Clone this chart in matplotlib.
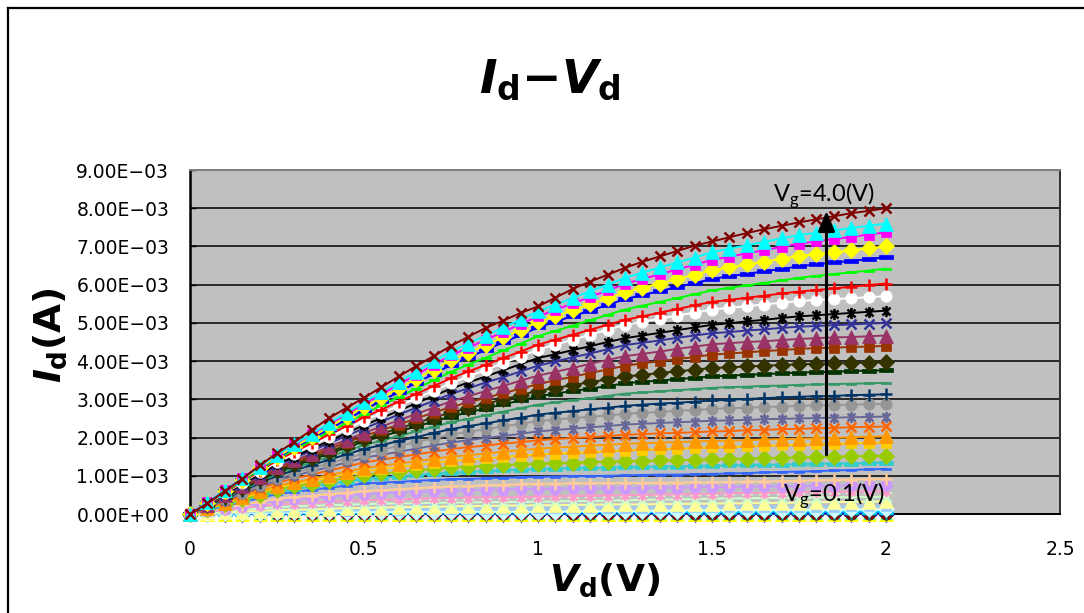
import matplotlib
matplotlib.use("Agg")
import matplotlib.pyplot as plt
from matplotlib.path import Path
from matplotlib.lines import Line2D
import numpy as np

# drain voltage sweep (V)
vd = [0.00, 0.05, 0.10, 0.15, 0.20, 0.25, 0.30, 0.35, 0.40, 0.45, 0.50,
      0.55, 0.60, 0.65, 0.70, 0.75, 0.80, 0.85, 0.90, 0.95, 1.00,
      1.05, 1.10, 1.15, 1.20, 1.25, 1.30, 1.35, 1.40, 1.45, 1.50,
      1.55, 1.60, 1.65, 1.70, 1.75, 1.80, 1.85, 1.90, 1.95, 2.00]

# drain current (mA) for each gate voltage
id_vg01_07 = [0, 0, 0, 0, 0, 0, 0, 0, 0, 0, 0, 0, 0, 0, 0, 0, 0, 0, 0, 0, 0,
              0, 0, 0, 0, 0, .01, .01, .01, .01, .01, .01, .01, .01, .01, .01, .01, .01, .01, .01, .01]
id_vg08 = [0, .00, .01, .01, .01, .01, .01, .01, .02, .02, .02, .02, .02, .02, .02, .02, .02, .02, .02, .02, .02,
           .02, .02, .02, .03, .03, .03, .03, .03, .03, .03, .03, .03, .03, .03, .03, .03, .03, .03, .03, .03]
id_vg09 = [0, .00, .01, .01, .02, .02, .02, .02, .03, .03, .03, .03, .03, .04, .04, .04, .04, .04, .04, .04, .04,
           .04, .05, .05, .05, .05, .05, .05, .05, .05, .05, .05, .05, .06, .06, .06, .06, .06, .06, .06, .06]
id_vg10 = [0, .01, .02, .02, .03, .04, .04, .04, .05, .05, .05, .05, .05, .06, .06, .06, .06, .06, .06, .06, .06,
           .06, .07, .07, .08, .08, .08, .09, .09, .10, .10, .10, .10, .11, .11, .11, .11, .11, .12, .12, .12]
id_vg11 = [0, .01, .02, .04, .05, .06, .07, .08, .08, .09, .10, .11, .11, .12, .12, .13, .13, .14, .14, .15, .15,
           .15, .16, .16, .17, .17, .17, .17, .18, .18, .18, .18, .18, .19, .19, .19, .19, .19, .20, .20, .20]
id_vg12 = [0, .02, .04, .06, .08, .10, .11, .12, .14, .15, .16, .17, .18, .18, .19, .20, .21, .21, .22, .22, .23,
           .23, .24, .24, .25, .25, .25, .26, .26, .27, .27, .28, .28, .29, .29, .30, .31, .31, .32, .32, .33]
id_vg13 = [0, .04, .07, .11, .14, .18, .20, .21, .23, .24, .26, .27, .28, .28, .29, .30, .30, .31, .31, .32, .32,
           .33, .34, .34, .35, .36, .37, .38, .38, .39, .40, .41, .41, .42, .42, .43, .43, .44, .44, .45, .45]
id_vg14 = [0, .05, .10, .15, .20, .25, .27, .29, .32, .34, .36, .37, .38, .40, .41, .42, .43, .43, .44, .44, .45,
           .46, .47, .47, .48, .49, .50, .51, .51, .52, .53, .54, .55, .55, .56, .57, .58, .58, .59, .59, .60]
id_vg15 = [0, .07, .14, .21, .28, .35, .38, .42, .45, .49, .52, .54, .56, .57, .59, .61, .62, .63, .64, .65, .66,
           .66, .67, .67, .68, .68, .68, .69, .69, .70, .70, .71, .71, .72, .72, .73, .74, .74, .75, .75, .76]
id_vg16 = [0, .08, .16, .24, .32, .40, .44, .48, .52, .56, .60, .62, .65, .67, .70, .72, .73, .75, .76, .78, .79,
           .79, .80, .80, .81, .81, .81, .82, .82, .83, .83, .84, .85, .85, .86, .87, .88, .89, .90, .91, .92]
id_vg17 = [0, .10, .21, .31, .42, .52, .58, .63, .69, .74, .80, .82, .84, .87, .89, .91, .92, .93, .95, .96, .97,
           .98, .99, .99, 1.00, 1.01, 1.02, 1.03, 1.03, 1.04, 1.05, 1.06, 1.07, 1.09, 1.10, 1.11, 1.12, 1.14, 1.15, 1.17, 1.18]
id_vg18 = [0, .12, .23, .35, .46, .58, .65, .72, .79, .85, .92, .95, .98, 1.02, 1.05, 1.08, 1.10, 1.12, 1.14, 1.16, 1.18,
           1.19, 1.20, 1.20, 1.21, 1.22, 1.23, 1.24, 1.24, 1.25, 1.26, 1.27, 1.28, 1.28, 1.29, 1.30, 1.31, 1.32, 1.32, 1.33, 1.34]
id_vg19 = [0, .13, .26, .38, .51, .64, .72, .79, .87, .94, 1.02, 1.06, 1.10, 1.14, 1.18, 1.22, 1.24, 1.26, 1.28, 1.30, 1.32,
           1.33, 1.34, 1.36, 1.37, 1.38, 1.39, 1.40, 1.41, 1.42, 1.43, 1.44, 1.45, 1.46, 1.47, 1.48, 1.49, 1.50, 1.51, 1.52, 1.53]
id_vg20 = [0, .14, .28, .42, .56, .70, .78, .87, .95, 1.04, 1.12, 1.17, 1.23, 1.28, 1.34, 1.39, 1.42, 1.46, 1.49, 1.53, 1.56,
           1.58, 1.60, 1.62, 1.64, 1.66, 1.68, 1.69, 1.71, 1.72, 1.74, 1.75, 1.77, 1.78, 1.80, 1.81, 1.82, 1.83, 1.85, 1.86, 1.87]
id_vg21 = [0, .15, .30, .44, .59, .74, .83, .92, 1.02, 1.11, 1.20, 1.26, 1.32, 1.38, 1.44, 1.50, 1.54, 1.58, 1.63, 1.67, 1.71,
           1.74, 1.76, 1.79, 1.81, 1.84, 1.85, 1.87, 1.88, 1.90, 1.91, 1.92, 1.93, 1.95, 1.96, 1.97, 1.98, 1.99, 2.01, 2.02, 2.03]
id_vg22 = [0, .16, .33, .49, .66, .82, .93, 1.03, 1.14, 1.24, 1.35, 1.42, 1.49, 1.56, 1.63, 1.70, 1.75, 1.79, 1.84, 1.88, 1.93,
           1.96, 1.99, 2.01, 2.04, 2.07, 2.09, 2.11, 2.12, 2.14, 2.16, 2.17, 2.19, 2.20, 2.22, 2.23, 2.24, 2.25, 2.27, 2.28, 2.29]
id_vg23 = [0, .18, .35, .53, .70, .88, 1.00, 1.12, 1.23, 1.35, 1.47, 1.55, 1.63, 1.71, 1.79, 1.87, 1.93, 1.99, 2.04, 2.10, 2.16,
           2.20, 2.23, 2.27, 2.30, 2.34, 2.36, 2.38, 2.40, 2.42, 2.44, 2.45, 2.46, 2.48, 2.49, 2.50, 2.51, 2.52, 2.53, 2.54, 2.55]
id_vg24 = [0, .19, .38, .56, .75, .94, 1.07, 1.20, 1.32, 1.45, 1.58, 1.68, 1.78, 1.88, 1.98, 2.08, 2.15, 2.22, 2.29, 2.36, 2.43,
           2.47, 2.51, 2.54, 2.58, 2.62, 2.65, 2.67, 2.70, 2.72, 2.75, 2.77, 2.78, 2.80, 2.81, 2.83, 2.84, 2.85, 2.86, 2.87, 2.88]
id_vg25 = [0, .20, .40, .60, .80, 1.00, 1.14, 1.28, 1.42, 1.56, 1.70, 1.80, 1.91, 2.01, 2.12, 2.22, 2.30, 2.37, 2.45, 2.52, 2.60,
           2.65, 2.69, 2.74, 2.78, 2.83, 2.86, 2.89, 2.91, 2.94, 2.97, 2.99, 3.01, 3.03, 3.05, 3.07, 3.08, 3.09, 3.11, 3.12, 3.13]
id_vg26 = [0, .21, .42, .63, .84, 1.05, 1.20, 1.35, 1.50, 1.65, 1.80, 1.92, 2.04, 2.16, 2.28, 2.40, 2.49, 2.58, 2.68, 2.77, 2.86,
           2.92, 2.98, 3.03, 3.09, 3.15, 3.18, 3.21, 3.24, 3.27, 3.30, 3.32, 3.33, 3.35, 3.36, 3.38, 3.39, 3.40, 3.41, 3.42, 3.43]
id_vg27 = [0, .22, .44, .66, .88, 1.10, 1.26, 1.42, 1.58, 1.74, 1.90, 2.03, 2.16, 2.29, 2.42, 2.55, 2.66, 2.76, 2.87, 2.97, 3.08,
           3.15, 3.22, 3.28, 3.35, 3.42, 3.46, 3.49, 3.53, 3.56, 3.60, 3.62, 3.64, 3.66, 3.68, 3.70, 3.71, 3.72, 3.74, 3.75, 3.76]
id_vg28 = [0, .23, .46, .68, .91, 1.14, 1.30, 1.47, 1.63, 1.80, 1.96, 2.10, 2.24, 2.38, 2.52, 2.66, 2.77, 2.88, 3.00, 3.11, 3.22,
           3.30, 3.37, 3.45, 3.52, 3.60, 3.64, 3.69, 3.73, 3.78, 3.82, 3.84, 3.86, 3.88, 3.90, 3.92, 3.93, 3.94, 3.95, 3.96, 3.97]
id_vg29 = [0, .24, .47, .71, .94, 1.18, 1.35, 1.52, 1.70, 1.87, 2.04, 2.19, 2.34, 2.50, 2.65, 2.80, 2.92, 3.04, 3.16, 3.28, 3.40,
           3.50, 3.59, 3.69, 3.78, 3.88, 3.94, 4.00, 4.05, 4.11, 4.17, 4.20, 4.23, 4.26, 4.29, 4.32, 4.34, 4.35, 4.37, 4.38, 4.40]
id_vg30 = [0, .24, .49, .73, .98, 1.22, 1.40, 1.58, 1.76, 1.94, 2.12, 2.29, 2.45, 2.62, 2.78, 2.95, 3.08, 3.22, 3.35, 3.49, 3.62,
           3.72, 3.82, 3.93, 4.03, 4.13, 4.19, 4.25, 4.32, 4.38, 4.44, 4.47, 4.50, 4.52, 4.55, 4.58, 4.60, 4.62, 4.63, 4.65, 4.67]
id_vg31 = [0, .25, .51, .76, 1.02, 1.27, 1.46, 1.66, 1.85, 2.05, 2.24, 2.42, 2.60, 2.78, 2.96, 3.14, 3.29, 3.44, 3.58, 3.73, 3.88,
           3.99, 4.10, 4.20, 4.31, 4.42, 4.48, 4.54, 4.61, 4.67, 4.73, 4.76, 4.80, 4.83, 4.87, 4.90, 4.92, 4.94, 4.96, 4.98, 5.00]
id_vg32 = [0, .26, .52, .78, 1.04, 1.30, 1.50, 1.71, 1.91, 2.12, 2.32, 2.51, 2.70, 2.90, 3.09, 3.28, 3.44, 3.60, 3.76, 3.92, 4.08,
           4.18, 4.29, 4.39, 4.50, 4.60, 4.67, 4.74, 4.81, 4.88, 4.95, 4.99, 5.04, 5.08, 5.13, 5.17, 5.20, 5.23, 5.26, 5.29, 5.32]
id_vg33 = [0, .27, .54, .82, 1.09, 1.36, 1.58, 1.79, 2.01, 2.22, 2.44, 2.64, 2.83, 3.03, 3.22, 3.42, 3.60, 3.77, 3.95, 4.12, 4.30,
           4.43, 4.56, 4.69, 4.82, 4.95, 5.03, 5.11, 5.19, 5.27, 5.35, 5.39, 5.44, 5.48, 5.53, 5.57, 5.60, 5.62, 5.65, 5.67, 5.70]
id_vg34 = [0, .28, .56, .84, 1.12, 1.40, 1.63, 1.85, 2.08, 2.30, 2.53, 2.73, 2.94, 3.14, 3.35, 3.55, 3.73, 3.90, 4.08, 4.25, 4.43,
           4.56, 4.69, 4.82, 4.95, 5.08, 5.17, 5.27, 5.36, 5.46, 5.55, 5.60, 5.66, 5.71, 5.77, 5.82, 5.86, 5.90, 5.95, 5.99, 6.03]
id_vg35 = [0, .29, .58, .86, 1.15, 1.44, 1.68, 1.91, 2.15, 2.38, 2.62, 2.84, 3.06, 3.28, 3.50, 3.72, 3.91, 4.09, 4.28, 4.46, 4.65,
           4.79, 4.93, 5.07, 5.21, 5.35, 5.45, 5.55, 5.65, 5.75, 5.85, 5.92, 5.98, 6.05, 6.11, 6.18, 6.23, 6.28, 6.32, 6.37, 6.42]
id_vg36 = [0, .30, .59, .89, 1.18, 1.48, 1.73, 1.98, 2.22, 2.47, 2.72, 2.96, 3.19, 3.43, 3.66, 3.90, 4.10, 4.29, 4.49, 4.68, 4.88,
           5.03, 5.18, 5.32, 5.47, 5.62, 5.73, 5.83, 5.94, 6.04, 6.15, 6.22, 6.28, 6.35, 6.41, 6.48, 6.53, 6.58, 6.62, 6.67, 6.72]
id_vg37 = [0, .30, .60, .90, 1.20, 1.50, 1.76, 2.02, 2.28, 2.54, 2.80, 3.04, 3.29, 3.53, 3.78, 4.02, 4.22, 4.42, 4.62, 4.82, 5.02,
           5.18, 5.33, 5.49, 5.64, 5.80, 5.92, 6.03, 6.15, 6.26, 6.38, 6.45, 6.53, 6.60, 6.68, 6.75, 6.80, 6.85, 6.90, 6.95, 7.00]
id_vg38 = [0, .31, .62, .93, 1.24, 1.55, 1.82, 2.08, 2.35, 2.61, 2.88, 3.13, 3.39, 3.64, 3.90, 4.15, 4.35, 4.56, 4.76, 4.97, 5.17,
           5.34, 5.51, 5.68, 5.85, 6.02, 6.15, 6.27, 6.40, 6.52, 6.65, 6.73, 6.82, 6.90, 6.99, 7.07, 7.13, 7.19, 7.25, 7.31, 7.37]
id_vg39 = [0, .31, .62, .93, 1.24, 1.55, 1.83, 2.10, 2.38, 2.65, 2.93, 3.19, 3.46, 3.72, 3.99, 4.25, 4.46, 4.67, 4.88, 5.09, 5.30,
           5.48, 5.65, 5.83, 6.00, 6.18, 6.31, 6.45, 6.58, 6.71, 6.85, 6.94, 7.03, 7.12, 7.21, 7.30, 7.36, 7.42, 7.48, 7.54, 7.60]
id_vg40 = [0, .28, .60, .92, 1.27, 1.59, 1.89, 2.20, 2.51, 2.78, 3.04, 3.32, 3.60, 3.87, 4.13, 4.40, 4.64, 4.87, 5.06, 5.26, 5.43,
           5.66, 5.89, 6.08, 6.26, 6.44, 6.60, 6.74, 6.88, 7.02, 7.13, 7.24, 7.35, 7.45, 7.54, 7.63, 7.71, 7.79, 7.87, 7.93, 8.00]

curves = [id_vg01_07] * 7 + [id_vg08, id_vg09, id_vg10, id_vg11, id_vg12, id_vg13, id_vg14, id_vg15,
                             id_vg16, id_vg17, id_vg18, id_vg19, id_vg20, id_vg21, id_vg22, id_vg23,
                             id_vg24, id_vg25, id_vg26, id_vg27, id_vg28, id_vg29, id_vg30, id_vg31,
                             id_vg32, id_vg33, id_vg34, id_vg35, id_vg36, id_vg37, id_vg38, id_vg39, id_vg40]

x_ticks = [0, 0.5, 1, 1.5, 2, 2.5]
x_ticklabels = ["0", "0.5", "1", "1.5", "2", "2.5"]

# excel style series colours, Vg = 0.1 ... 4.0
colors = ["#000080", "#FF00FF", "#FFFF00", "#00FFFF", "#800080", "#800000", "#008080", "#0000FF",
          "#00CCFF", "#CCFFFF", "#99CCFF", "#FFFF99", "#CCFFCC", "#FF99CC", "#CC99FF", "#FFCC99",
          "#3366FF", "#33CCCC", "#99CC00", "#FFCC00", "#FF9900", "#FF6600", "#666699", "#969696",
          "#003366", "#339966", "#003300", "#333300", "#993300", "#993366", "#333399", "#000000",
          "#FFFFFF", "#FF0000", "#00FF00", "#0000FF", "#FFFF00", "#FF00FF", "#00FFFF", "#800000"]

star = Path([(0, -1), (0, 1), (-0.72, -0.72), (0.72, 0.72), (-0.72, 0.72), (0.72, -0.72)],
            [Path.MOVETO, Path.LINETO, Path.MOVETO, Path.LINETO, Path.MOVETO, Path.LINETO])
bar = Path([(-1, -0.32), (1, -0.32), (1, 0.32), (-1, 0.32), (-1, -0.32)],
           [Path.MOVETO, Path.LINETO, Path.LINETO, Path.LINETO, Path.CLOSEPOLY])

# marker cycle: (marker, size, filled)
marker_cycle = [("D", 7.8, True), ("s", 7.2, True), ("^", 9.5, True), ("x", 7.0, False),
                (star, 8.0, False), ("o", 8.2, True), ("+", 8.5, False),
                (bar, 6.5, True), (bar, 10.0, True)]

plt.rcParams["mathtext.fontset"] = "custom"
plt.rcParams["mathtext.it"] = "DejaVu Sans:italic:bold"
plt.rcParams["mathtext.rm"] = "DejaVu Sans:bold"
plt.rcParams["mathtext.sf"] = "Lato"

fig = plt.figure(figsize=(10.84, 6.13), dpi=100)
ax = fig.add_axes([190 / 1084, 1 - 514 / 613, 870 / 1084, 344 / 613])
ax.set_facecolor("#C0C0C0")

for i, (curve, color) in enumerate(zip(curves, colors)):
    mk, ms, filled = marker_cycle[i % 9]
    y = np.array(curve) * 1e-3
    if filled:
        ax.plot(vd, y, color=color, lw=1.4, marker=mk, ms=ms, mfc=color, mec=color,
                mew=0.5, zorder=3 + i * 0.01, clip_on=False)
    else:
        ax.plot(vd, y, color=color, lw=1.4, marker=mk, ms=ms, mec=color,
                mew=1.8, zorder=3 + i * 0.01, clip_on=False)

ax.set_xlim(0, 2.5)
ax.set_ylim(0, 9e-3)
ax.set_xticks(x_ticks)
ax.set_xticklabels(x_ticklabels)
yt = np.arange(0, 10) * 1e-3
ax.set_yticks(yt)
ax.set_yticklabels([f"{v:.2E}".replace("-", "\u2212") for v in yt])
ax.tick_params(axis="y", direction="in", length=4, width=1, pad=15, labelsize=13.5)
ax.tick_params(axis="x", length=0, pad=19, labelsize=13.5)

ax.yaxis.grid(True, color="black", lw=1.1)
ax.set_axisbelow(True)
ax.spines["left"].set_color("black")
ax.spines["left"].set_linewidth(1.8)
ax.spines["bottom"].set_color("black")
ax.spines["bottom"].set_linewidth(1.4)
ax.spines["right"].set_color("#303030")
ax.spines["right"].set_linewidth(1.4)
ax.spines["top"].set_color("#808080")
ax.spines["top"].set_linewidth(1.4)

# Vg annotations and arrow
ax.annotate("", xy=(1.829, 7.93e-3), xytext=(1.829, 1.55e-3),
            arrowprops=dict(arrowstyle="-|>,head_width=0.25,head_length=0.6",
                            lw=2.2, color="black", mutation_scale=20, shrinkA=0, shrinkB=0),
            zorder=10)
ax.text(1.676, 8.17e-3, r"V$_\mathsf{g}$=4.0(V)", fontsize=17, family="Lato",
        ha="left", va="baseline", zorder=11)
ax.text(1.705, 0.31e-3, r"V$_\mathsf{g}$=0.1(V)", fontsize=17, family="Lato",
        ha="left", va="baseline", zorder=11)

# titles
fig.text(550 / 1084, 1 - 80 / 613, r"$I_{\rm d}$" + "\u2212" + r"$V_{\rm d}$",
         fontsize=34, fontweight="bold", ha="center", va="center")
fig.text(50 / 1084, 1 - 335 / 613, r"$I_{\rm d}$(A)", fontsize=27, fontweight="bold",
         rotation=90, ha="center", va="center")
fig.text(605 / 1084, 1 - 580 / 613, r"$V_{\rm d}$(V)", fontsize=27, fontweight="bold",
         ha="center", va="center")

# chart frame
fig.add_artist(Line2D([8 / 1084, 8 / 1084], [0, 1 - 8 / 613], color="black", lw=1.6))
fig.add_artist(Line2D([8 / 1084, 1], [1 - 8 / 613, 1 - 8 / 613], color="black", lw=1.6))

fig.savefig("out.png", dpi=100)
